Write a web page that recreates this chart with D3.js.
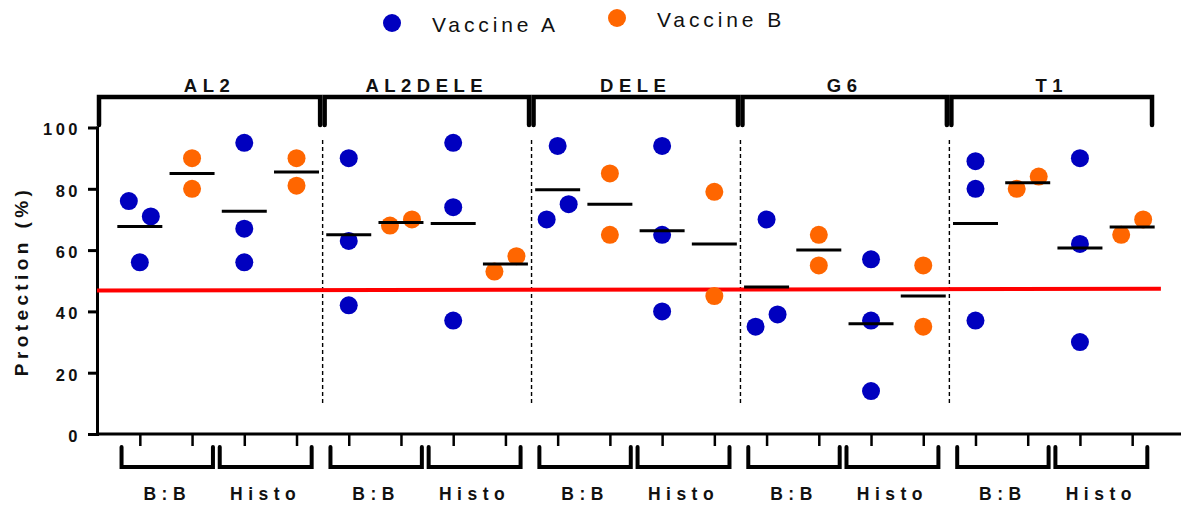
<!DOCTYPE html>
<html>
<head>
<meta charset="utf-8">
<script src="https://cdn.jsdelivr.net/npm/d3@7"></script>
<style>
  html, body { margin: 0; padding: 0; background: #fff; }
  svg { display: block; }
  text { font-family: "Liberation Sans", Arial, sans-serif; fill: #111; }
</style>
</head>
<body>
<svg id="chart" width="1181" height="506"></svg>
<script>
// Antigen groups, assays within each group, and the two vaccines
const groups = ["AL2", "AL2DELE", "DELE", "G6", "T1"];
const assays = ["B:B", "Histo"];
const vaccines = ["Vaccine A", "Vaccine B"];

// Protection (%) per animal, indexed [group][assay]
const vaccineA = [
  [[76, 71, 56], [95, 67, 56]],
  [[90, 63, 42], [95, 74, 37]],
  [[94, 70, 75], [94, 65, 40]],
  [[70, 35, 39], [57, 37, 14]],
  [[89, 80, 37], [90, 62, 30]]
];
const vaccineB = [
  [[90, 80], [90, 81]],
  [[68, 70], [53, 58]],
  [[85, 65], [79, 45]],
  [[65, 55], [55, 35]],
  [[80, 84], [65, 70]]
];

// Protection threshold line (start and end value)
const threshold = [46.8, 47.4];
const yTicks = [0, 20, 40, 60, 80, 100];

const colors = { "Vaccine A": "#0000BF", "Vaccine B": "#FF6600" };
const seriesData = { "Vaccine A": vaccineA, "Vaccine B": vaccineB };

// One column per group × assay × vaccine
const columns = [];
groups.forEach((g, gi) => assays.forEach((a, ai) => vaccines.forEach((v) => {
  columns.push({ id: `${g}|${a}|${v}`, group: g, gi, assay: a, ai, vaccine: v,
    values: seriesData[v][gi][ai] });
})));

const svg = d3.select("#chart");
const W = 1181;
const x0 = 97, y0 = 434, yTop = 127.5;

const x = d3.scalePoint().domain(columns.map(c => c.id)).range([x0, 1175]).padding(0.82);
const y = d3.scaleLinear().domain([0, 100]).range([y0, yTop]);
const step = x.step();
const r = 9;
const spread = 11;

// Legend
const legend = [
  { name: vaccines[0], cx: 392, cy: 23, tx: 432, ty: 32 },
  { name: vaccines[1], cx: 617, cy: 18, tx: 657, ty: 27 }
];
legend.forEach(l => {
  svg.append("circle").attr("cx", l.cx).attr("cy", l.cy).attr("r", r).attr("fill", colors[l.name]);
  svg.append("text").attr("x", l.tx).attr("y", l.ty).text(l.name)
    .style("font-size", "21px").style("letter-spacing", "3.9px");
});

// Dashed separators between groups
const groupFirst = gi => x(columns[gi * 4].id);
const groupLast = gi => x(columns[gi * 4 + 3].id);
const seps = d3.range(1, groups.length).map(gi => (groupLast(gi - 1) + groupFirst(gi)) / 2);
svg.append("g").selectAll("line").data(seps).join("line")
  .attr("x1", d => d).attr("x2", d => d).attr("y1", 140).attr("y2", 404)
  .attr("stroke", "#000").attr("stroke-width", 1.4).attr("stroke-dasharray", "4,3");

// Top group brackets and labels
const topG = svg.append("g");
groups.forEach((g, gi) => {
  const left = gi === 0 ? x0 + 2 : seps[gi - 1] + 2;
  const right = gi === groups.length - 1 ? groupLast(gi) + 0.38 * step : seps[gi] - 2.5;
  topG.append("path")
    .attr("d", `M${left},125 V97 H${right} V125`)
    .attr("fill", "none").attr("stroke", "#000").attr("stroke-width", 4.5)
    .attr("stroke-linecap", "round").attr("stroke-linejoin", "miter");
  topG.append("text").attr("x", (left + right) / 2).attr("y", 92)
    .attr("text-anchor", "middle").text(g)
    .style("font-size", "18.5px").style("font-weight", "bold").style("letter-spacing", "5.5px");
});

// Y axis
const yAxis = svg.append("g").attr("transform", `translate(${x0},0)`)
  .call(d3.axisLeft(y).tickValues(yTicks).tickSize(9).tickSizeOuter(0).tickPadding(7));
yAxis.select(".domain").attr("stroke", "#000").attr("stroke-width", 3).attr("stroke-linecap", "square");
yAxis.selectAll(".tick line").attr("stroke", "#000").attr("stroke-width", 3);
yAxis.selectAll(".tick text")
  .attr("dy", "0.45em")
  .style("font-family", "'Liberation Sans', Arial, sans-serif")
  .style("font-size", "16.5px").style("font-weight", "bold").style("letter-spacing", "3.5px")
  .attr("fill", "#111");

svg.append("text")
  .attr("transform", `translate(28,281) rotate(-90)`)
  .attr("text-anchor", "middle").text("Protection (%)")
  .style("font-size", "19px").style("font-weight", "bold").style("letter-spacing", "4.4px");

// X axis: line with one tick per column
const xAxis = svg.append("g").attr("transform", `translate(0,${y0})`)
  .call(d3.axisBottom(x).tickSize(12).tickSizeOuter(0).tickFormat(""));
xAxis.select(".domain").remove();
xAxis.selectAll(".tick line").attr("stroke", "#000").attr("stroke-width", 2.5);
svg.append("line").attr("x1", x0).attr("x2", W).attr("y1", y0).attr("y2", y0)
  .attr("stroke", "#000").attr("stroke-width", 3);

// Bottom assay brackets and labels
const botG = svg.append("g");
groups.forEach((g, gi) => assays.forEach((a, ai) => {
  const c0 = x(columns[gi * 4 + ai * 2].id);
  const c1 = x(columns[gi * 4 + ai * 2 + 1].id);
  const left = ai === 0 ? c0 - 0.35 * step : c0 - 0.47 * step;
  const right = ai === 0 ? c1 + 0.4 * step : c1 + 0.29 * step;
  botG.append("path")
    .attr("d", `M${left},447 V467 H${right} V447`)
    .attr("fill", "none").attr("stroke", "#000").attr("stroke-width", 4)
    .attr("stroke-linecap", "round").attr("stroke-linejoin", "miter");
  botG.append("text").attr("x", (left + right) / 2).attr("y", 500)
    .attr("text-anchor", "middle").text(a)
    .style("font-size", "17.5px").style("font-weight", "bold").style("letter-spacing", "5.5px");
}));

// Threshold line
const xEnd = x(columns[columns.length - 1].id) + 0.55 * step;
svg.append("line")
  .attr("x1", x0).attr("x2", xEnd)
  .attr("y1", y(threshold[0])).attr("y2", y(threshold[1]))
  .attr("stroke", "#FF0000").attr("stroke-width", 4);

// Points: near-overlapping pairs in a column are spread left/right
function placePoints(col) {
  const pts = col.values.map((v, i) => ({ v, i, dx: 0 }));
  const used = new Set();
  for (let a = 0; a < pts.length; a++) {
    for (let b = a + 1; b < pts.length; b++) {
      if (used.has(a) || used.has(b)) continue;
      if (Math.abs(y(pts[a].v) - y(pts[b].v)) < 2 * r) {
        pts[a].dx = -spread; pts[b].dx = spread;
        used.add(a); used.add(b);
      }
    }
  }
  return pts.map(p => ({ cx: x(col.id) + p.dx, cy: y(p.v), color: colors[col.vaccine] }));
}
const pointG = svg.append("g");
columns.forEach(col => {
  pointG.selectAll(null).data(placePoints(col)).join("circle")
    .attr("cx", d => d.cx).attr("cy", d => d.cy).attr("r", r).attr("fill", d => d.color);
});

// Mean lines
svg.append("g").selectAll("line").data(columns).join("line")
  .attr("x1", d => x(d.id) - 22.5).attr("x2", d => x(d.id) + 22.5)
  .attr("y1", d => y(d3.mean(d.values))).attr("y2", d => y(d3.mean(d.values)))
  .attr("stroke", "#000").attr("stroke-width", 3);
</script>
</body>
</html>
